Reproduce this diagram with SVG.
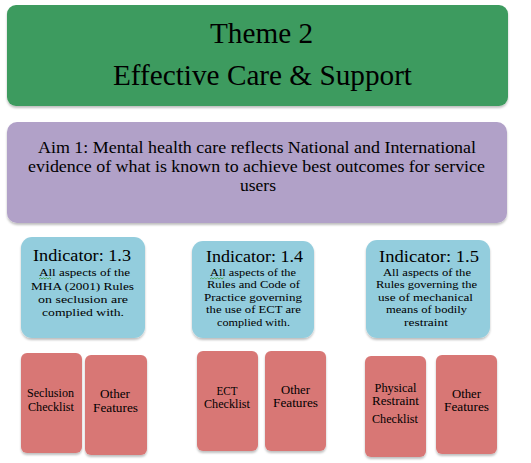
<svg xmlns="http://www.w3.org/2000/svg" width="531" height="463" viewBox="0 0 531 463">
<defs>
<filter id="sh" x="-10%" y="-10%" width="120%" height="130%">
<feDropShadow dx="0" dy="2" stdDeviation="1.2" flood-color="#000" flood-opacity="0.25"/>
</filter>
<style>
text{font-family:"Liberation Serif","Times New Roman",serif;fill:#000;text-anchor:middle}
.theme{fill:#3E9B5F}
.aim{fill:#B1A1C8}
.ind{fill:#93CDDD}
.chk{fill:#D87775}
.t1{font-size:30px}
.t2{font-size:16px}
.t3{font-size:16px}
.t4{font-size:11px}
.t5{font-size:11.5px}
.wav{fill:none;stroke:#3C9A3C;stroke-width:0.8}
</style>
</defs>
<g id="theme">
<rect class="theme" x="7" y="5" width="501" height="101" rx="9" filter="url(#sh)"/>
<text class="t1" x="261.5" y="43" textLength="103" lengthAdjust="spacingAndGlyphs">Theme 2</text>
<text class="t1" x="262.5" y="85" textLength="299" lengthAdjust="spacingAndGlyphs">Effective Care &amp; Support</text>
</g>
<g id="aim">
<rect class="aim" x="7" y="122" width="500" height="101" rx="10" filter="url(#sh)"/>
<text class="t2" x="257" y="153" textLength="438" lengthAdjust="spacingAndGlyphs">Aim 1: Mental health care reflects National and International</text>
<text class="t2" x="256.5" y="172" textLength="457" lengthAdjust="spacingAndGlyphs">evidence of what is known to achieve best outcomes for service</text>
<text class="t2" x="258" y="191" textLength="36" lengthAdjust="spacingAndGlyphs">users</text>
</g>
<g id="ind13">
<rect class="ind" x="21" y="237" width="124" height="101" rx="11" filter="url(#sh)"/>
<text class="t3" x="82" y="261" textLength="98" lengthAdjust="spacingAndGlyphs">Indicator: 1.3</text>
<text class="t4" x="84.5" y="276" textLength="91" lengthAdjust="spacingAndGlyphs">All aspects of the</text>
<text class="t4" x="82.5" y="290" textLength="103" lengthAdjust="spacingAndGlyphs">MHA (2001) Rules</text>
<text class="t4" x="83" y="303" textLength="90" lengthAdjust="spacingAndGlyphs">on seclusion are</text>
<text class="t4" x="83" y="316" textLength="82" lengthAdjust="spacingAndGlyphs">complied with.</text>
<path class="wav" d="M39 279 l1.5 -1.2 l1.5 1.2 l1.5 -1.2 l1.5 1.2 l1.5 -1.2 l1.5 1.2 l1.5 -1.2 l1.5 1.2"/>
</g>
<g id="ind14">
<rect class="ind" x="192" y="241" width="122" height="97" rx="11" filter="url(#sh)"/>
<text class="t3" x="254.5" y="262" textLength="97" lengthAdjust="spacingAndGlyphs">Indicator: 1.4</text>
<text class="t4" x="253" y="276" textLength="86" lengthAdjust="spacingAndGlyphs">All aspects of the</text>
<text class="t4" x="253.5" y="288" textLength="93" lengthAdjust="spacingAndGlyphs">Rules and Code of</text>
<text class="t4" x="253" y="300.5" textLength="98" lengthAdjust="spacingAndGlyphs">Practice governing</text>
<text class="t4" x="253.5" y="313" textLength="95" lengthAdjust="spacingAndGlyphs">the use of ECT are</text>
<text class="t4" x="253.5" y="326" textLength="73" lengthAdjust="spacingAndGlyphs">complied with.</text>
<path class="wav" d="M210 279 l1.5 -1.2 l1.5 1.2 l1.5 -1.2 l1.5 1.2 l1.5 -1.2 l1.5 1.2 l1.5 -1.2 l1.5 1.2 l1.5 -1.2"/>
</g>
<g id="ind15">
<rect class="ind" x="366" y="240" width="124" height="98" rx="11" filter="url(#sh)"/>
<text class="t3" x="429" y="262" textLength="100" lengthAdjust="spacingAndGlyphs">Indicator: 1.5</text>
<text class="t4" x="427" y="276" textLength="88" lengthAdjust="spacingAndGlyphs">All aspects of the</text>
<text class="t4" x="426.5" y="288" textLength="101" lengthAdjust="spacingAndGlyphs">Rules governing the</text>
<text class="t4" x="425.5" y="301" textLength="95" lengthAdjust="spacingAndGlyphs">use of mechanical</text>
<text class="t4" x="426.5" y="313" textLength="81" lengthAdjust="spacingAndGlyphs">means of bodily</text>
<text class="t4" x="426" y="326" textLength="44" lengthAdjust="spacingAndGlyphs">restraint</text>
</g>
<g id="seclusion">
<rect class="chk" x="21" y="353" width="61" height="100" rx="6" filter="url(#sh)"/>
<text class="t5" x="50.5" y="397" textLength="47" lengthAdjust="spacingAndGlyphs">Seclusion</text>
<text class="t5" x="51" y="411" textLength="46" lengthAdjust="spacingAndGlyphs">Checklist</text>
</g>
<g id="other1">
<rect class="chk" x="85" y="355" width="62" height="100" rx="6" filter="url(#sh)"/>
<text class="t5" x="115" y="398" textLength="30" lengthAdjust="spacingAndGlyphs">Other</text>
<text class="t5" x="115.5" y="412" textLength="45" lengthAdjust="spacingAndGlyphs">Features</text>
</g>
<g id="ect">
<rect class="chk" x="197" y="351" width="61" height="100" rx="6" filter="url(#sh)"/>
<text class="t5" x="227" y="395" textLength="21" lengthAdjust="spacingAndGlyphs">ECT</text>
<text class="t5" x="227" y="408" textLength="46" lengthAdjust="spacingAndGlyphs">Checklist</text>
</g>
<g id="other2">
<rect class="chk" x="265" y="351" width="61" height="100" rx="6" filter="url(#sh)"/>
<text class="t5" x="295.5" y="394" textLength="29" lengthAdjust="spacingAndGlyphs">Other</text>
<text class="t5" x="295.5" y="407" textLength="45" lengthAdjust="spacingAndGlyphs">Features</text>
</g>
<g id="physical">
<rect class="chk" x="365" y="356" width="61" height="101" rx="6" filter="url(#sh)"/>
<text class="t5" x="395.5" y="392" textLength="42" lengthAdjust="spacingAndGlyphs">Physical</text>
<text class="t5" x="395.5" y="405" textLength="47" lengthAdjust="spacingAndGlyphs">Restraint</text>
<text class="t5" x="395" y="423" textLength="46" lengthAdjust="spacingAndGlyphs">Checklist</text>
</g>
<g id="other3">
<rect class="chk" x="436" y="355" width="61" height="99" rx="6" filter="url(#sh)"/>
<text class="t5" x="466.5" y="398" textLength="29" lengthAdjust="spacingAndGlyphs">Other</text>
<text class="t5" x="466.5" y="411" textLength="45" lengthAdjust="spacingAndGlyphs">Features</text>
</g>
<g id="connectors"></g>
</svg>
